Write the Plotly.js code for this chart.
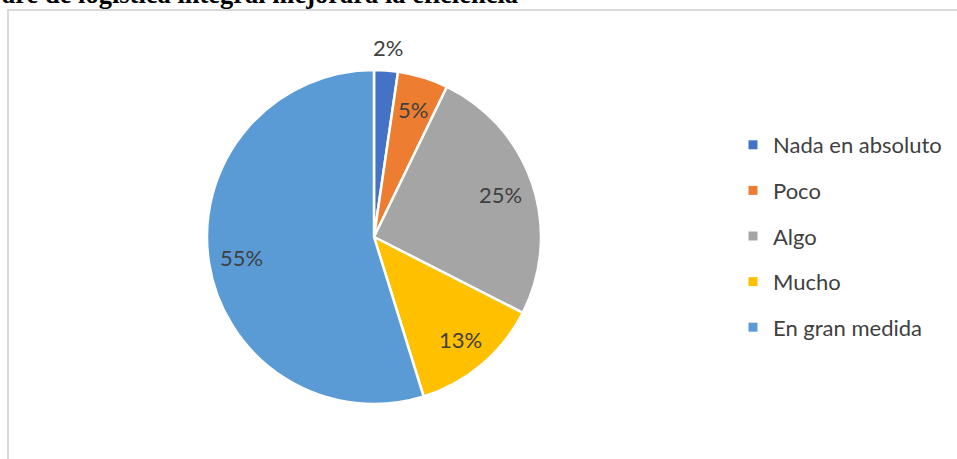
<!DOCTYPE html>
<html><head><meta charset="utf-8">
<script src="https://cdn.plot.ly/plotly-3.0.1.min.js"></script>
<style>html,body{margin:0;padding:0;background:#fff;}#chart{width:957px;height:459px;}</style>
</head><body><div id="chart"></div>
<script>
const categories = ["Nada en absoluto", "Poco", "Algo", "Mucho", "En gran medida"];
const values = [2.3, 4.9, 25.3, 12.7, 54.8];
const colors = ["#4472C4", "#ED7D31", "#A5A5A5", "#FFC000", "#5B9BD5"];
const labelOutside = [true, false, false, false, false];
const titleText = "are de logística integral mejorará la eficiencia";

const W = 957, H = 459;
const px = x => x / W;
const py = y => 1 - y / H;

// pie placement (pixels)
const pieL = 207, pieR = 541, pieT = 70, pieB = 404;
const cx = (pieL + pieR) / 2, cy = (pieT + pieB) / 2, rad = (pieB - pieT) / 2;
const labelFont = {family: "Lato, sans-serif", size: 22, color: "#404040"};

const traces = [{
  type: "pie",
  labels: categories,
  values: values,
  sort: false,
  direction: "clockwise",
  rotation: 0,
  marker: {colors: colors, line: {color: "#ffffff", width: 2.5}},
  textinfo: "none",
  showlegend: false,
  hoverinfo: "label+percent",
  domain: {x: [px(pieL), px(pieR)], y: [py(pieB), py(pieT)]}
}];
categories.forEach((c, i) => {
  traces.push({
    type: "scatter", mode: "markers", x: [null], y: [null],
    name: c, legendgroup: "g" + i,
    marker: {symbol: "square", size: 9, color: colors[i]},
    hoverinfo: "skip"
  });
});

// percentage labels placed at each slice's mid-angle
const total = values.reduce((a, b) => a + b, 0);
let cum = 0;
const labelAnns = values.map((v, i) => {
  const mid = (cum + v / 2) / total * 2 * Math.PI;
  cum += v;
  const rr = labelOutside[i] ? rad * 1.14 : rad * 0.8;
  const x = cx + rr * Math.sin(mid), y = cy - rr * Math.cos(mid);
  return {
    text: Math.round(v / total * 100) + "%",
    xref: "paper", yref: "paper", x: px(x), y: py(y),
    xanchor: "center", yanchor: "middle", showarrow: false, font: labelFont
  };
});

const layout = {
  width: W, height: H,
  margin: {l: 0, r: 0, t: 0, b: 0},
  paper_bgcolor: "#ffffff", plot_bgcolor: "rgba(0,0,0,0)",
  xaxis: {visible: false, range: [0, 1]},
  yaxis: {visible: false, range: [0, 1]},
  showlegend: true,
  legend: {
    x: px(733), y: py(124), xanchor: "left", yanchor: "top",
    traceorder: "grouped", tracegroupgap: 14,
    font: {family: "Lato, sans-serif", size: 22, color: "#404040"},
    bgcolor: "rgba(0,0,0,0)"
  },
  shapes: [
    {type: "line", xref: "paper", yref: "paper", x0: px(8), x1: px(8), y0: 0, y1: py(9),
     line: {color: "#d9d9d9", width: 2}},
    {type: "line", xref: "paper", yref: "paper", x0: px(7), x1: 1, y0: py(10), y1: py(10),
     line: {color: "#d9d9d9", width: 2}}
  ],
  annotations: [{
    text: "<b>" + titleText + "</b>",
    xref: "paper", yref: "paper", x: 0, y: py(11), xanchor: "left", yanchor: "bottom",
    showarrow: false,
    font: {family: "Liberation Serif, Times New Roman, serif", size: 26.5, color: "#000000"}
  }].concat(labelAnns)
};
Plotly.newPlot("chart", traces, layout, {displayModeBar: false, staticPlot: true});
</script></body></html>
